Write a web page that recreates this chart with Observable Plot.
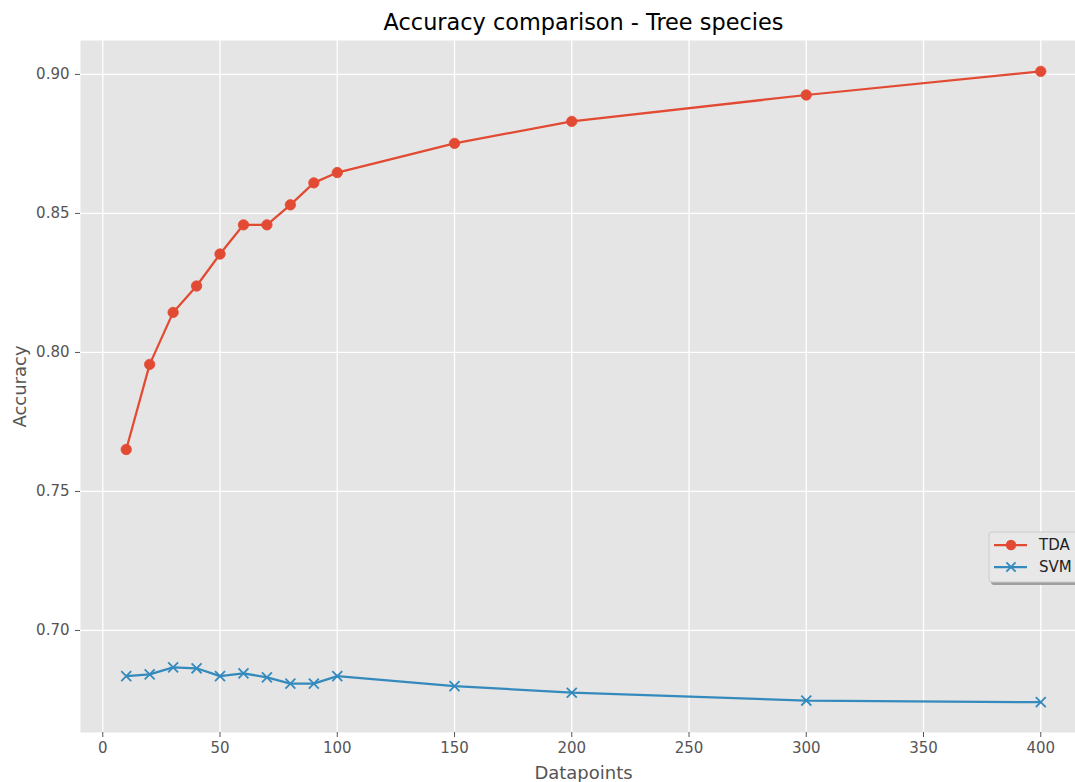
<!DOCTYPE html>
<html>
<head>
<meta charset="utf-8">
<script src="https://cdn.jsdelivr.net/npm/d3@7"></script>
<script src="https://cdn.jsdelivr.net/npm/@observablehq/plot@0.6"></script>
<style>
  html, body { margin: 0; padding: 0; background: white; overflow: hidden; }
</style>
</head>
<body>
<div id="chart"></div>
<script>
// ---- data ----
const datapoints = [10, 20, 30, 40, 50, 60, 70, 80, 90, 100, 150, 200, 300, 400];
const tdaAccuracy = [0.7651, 0.7957, 0.8144, 0.8239, 0.8354, 0.8459, 0.8459, 0.8531, 0.8610, 0.8647, 0.8752, 0.8831, 0.8926, 0.9011];
const svmAccuracy = [0.6836, 0.6842, 0.6867, 0.6864, 0.6836, 0.6846, 0.6831, 0.6809, 0.6809, 0.6836, 0.6800, 0.6776, 0.6748, 0.6742];
const seriesNames = ["TDA", "SVM"];
const seriesColors = ["#E24A33", "#348ABD"];
const xTicks = [0, 50, 100, 150, 200, 250, 300, 350, 400];
const yTicks = [0.70, 0.75, 0.80, 0.85, 0.90];
const titleText = "Accuracy comparison - Tree species";
const xLabel = "Datapoints";
const yLabel = "Accuracy";

const tda = datapoints.map((d, i) => ({x: d, y: tdaAccuracy[i]}));
const svm = datapoints.map((d, i) => ({x: d, y: svmAccuracy[i]}));

const W = 1075, H = 782;
const mL = 80, mT = 40, mB = 50;

const plot = Plot.plot({
  width: W,
  height: H,
  marginLeft: mL,
  marginRight: 0,
  marginTop: mT,
  marginBottom: mB,
  style: {fontFamily: "DejaVu Sans", fontSize: "15px", color: "#555555", background: "white", overflow: "hidden"},
  x: {domain: [-9.5, 419.5], range: [mL, 1086]},
  y: {domain: [0.6633, 0.9122]},
  marks: [
    Plot.frame({fill: "#E5E5E5", stroke: null}),
    Plot.gridX(xTicks, {stroke: "white", strokeOpacity: 1, strokeWidth: 1.3}),
    Plot.gridY(yTicks, {stroke: "white", strokeOpacity: 1, strokeWidth: 1.3}),
    Plot.axisX(xTicks, {tickSize: 5, tickPadding: 5, stroke: "#555555", fontSize: 15, label: null, tickFormat: d => String(d)}),
    Plot.axisY(yTicks, {tickSize: 5, tickPadding: 6, stroke: "#555555", fontSize: 15, label: null, tickFormat: d3.format(".2f")}),
    Plot.line(tda, {x: "x", y: "y", stroke: seriesColors[0], strokeWidth: 2.25}),
    Plot.dot(tda, {x: "x", y: "y", r: 5.2, fill: seriesColors[0], stroke: seriesColors[0], strokeWidth: 0.8}),
    Plot.line(svm, {x: "x", y: "y", stroke: seriesColors[1], strokeWidth: 2.25}),
    Plot.dot(svm, {x: "x", y: "y", r: 4.6, symbol: "times", stroke: seriesColors[1], strokeWidth: 1.8, fill: "none"}),
    Plot.text([titleText], {frameAnchor: "top", dx: 5.5, dy: -18, fontSize: 22.4, fill: "black", lineAnchor: "middle", textAnchor: "middle"}),
    Plot.text([xLabel], {frameAnchor: "bottom", dx: 5.5, dy: 41, fontSize: 18, fill: "#555555", lineAnchor: "middle", textAnchor: "middle"}),
    Plot.text([yLabel], {frameAnchor: "left", dx: -60, rotate: -90, fontSize: 18, fill: "#555555", lineAnchor: "middle", textAnchor: "middle"})
  ]
});

document.getElementById("chart").appendChild(plot);

// ---- legend (drawn on top of the plot) ----
const svg = d3.select(plot);
const lg = svg.append("g").attr("font-family", "DejaVu Sans").attr("font-size", 15).attr("text-anchor", "start");
const lx = 989, ly = 532, lw = 110, lh = 50;
lg.append("rect").attr("x", lx + 2).attr("y", ly + 3).attr("width", lw).attr("height", lh)
  .attr("rx", 3).attr("fill", "#8c8c8c").attr("fill-opacity", 0.8);
lg.append("rect").attr("x", lx).attr("y", ly).attr("width", lw).attr("height", lh)
  .attr("rx", 3).attr("fill", "#E8E8E8").attr("stroke", "#CCCCCC").attr("stroke-width", 1);
seriesNames.forEach((name, i) => {
  const cy = ly + 13 + i * 22;
  lg.append("line").attr("x1", lx + 5).attr("x2", lx + 38).attr("y1", cy).attr("y2", cy)
    .attr("stroke", seriesColors[i]).attr("stroke-width", 2.25);
  if (i === 0) {
    lg.append("circle").attr("cx", lx + 22).attr("cy", cy).attr("r", 5.2).attr("fill", seriesColors[i]);
  } else {
    const s = 4.6;
    lg.append("path").attr("d", `M${lx + 22 - s},${cy - s}L${lx + 22 + s},${cy + s}M${lx + 22 - s},${cy + s}L${lx + 22 + s},${cy - s}`)
      .attr("stroke", seriesColors[i]).attr("stroke-width", 1.8).attr("fill", "none");
  }
  lg.append("text").attr("x", lx + 50).attr("y", cy).attr("dy", "0.36em").attr("fill", "#222222").text(name);
});
</script>
</body>
</html>
